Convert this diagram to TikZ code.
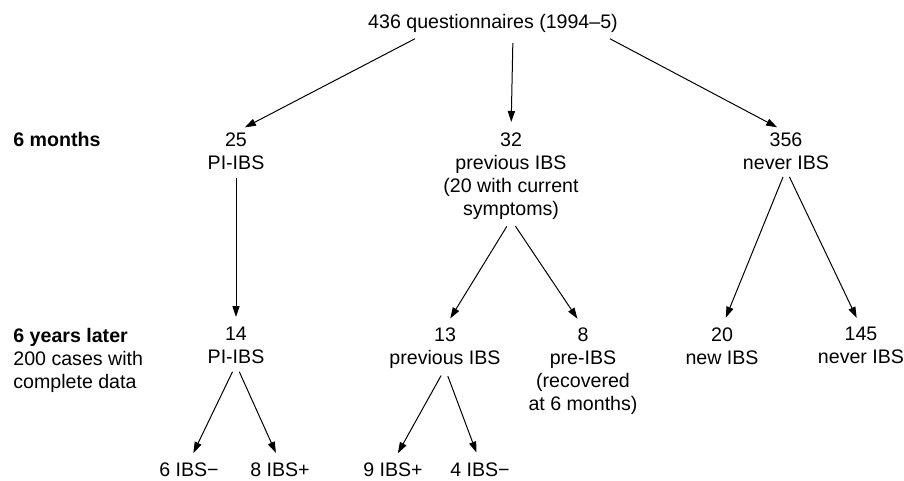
\documentclass[tikz,border=0pt]{standalone}
\usepackage{fontspec}
\setmainfont{Liberation Sans}
\usetikzlibrary{arrows.meta,positioning}
\tikzset{every node/.style={inner sep=0pt, font=\fontsize{9.8}{11.5}\selectfont},
count/.style={align=center, anchor=north},
stage/.style={align=left, anchor=north west},
flow/.style={-{Triangle[length=5.5pt,width=3.6pt]}, line width=0.5pt,
  shorten <=4pt, shorten >=5pt}
}

\begin{document}
\begin{tikzpicture}[x=0.5pt, y=-0.5pt]
\useasboundingbox (0,0) rectangle (904,481);
% stages
\node[stage] (s_6m) at (13,132) {\bfseries 6 months};
\node[stage] (s_6y) at (13,328) {\textbf{6 years later}\\200 cases with\\complete data};
% counts
\node[count] (q_all)    at (493,14)  {436 questionnaires (1994–5)};
\node[count] (pi_1)     at (236,132) {25\\PI-IBS};
\node[count] (prev_1)   at (511,132) {32\\previous IBS\\(20 with current\\symptoms)};
\node[count] (never_1)  at (786,132) {356\\never IBS};
\node[count] (pi_2)     at (236,327) {14\\PI-IBS};
\node[count] (prev_2)   at (445,327) {13\\previous IBS};
\node[count] (pre_2)    at (583,327) {8\\pre-IBS\\(recovered\\at 6 months)};
\node[count] (new_2)    at (722,327) {20\\new IBS};
\node[count] (never_2)  at (861,327) {145\\never IBS};
\node[count] (pim_3)    at (189,462) {6 IBS−};
\node[count] (pip_3)    at (280,462) {8 IBS+};
\node[count] (prevp_3)  at (393,462) {9 IBS+};
\node[count] (prevm_3)  at (480,462) {4 IBS−};

\path[flow] ([xshift=-35.5pt,yshift=-1pt]q_all.south) edge (pi_1.north)
            ([xshift=10pt,yshift=-1pt]q_all.south)    edge (prev_1.north)
            ([xshift=55pt,yshift=-1pt]q_all.south)    edge (never_1.north)
            (pi_1.south)    edge (pi_2.north)
            (prev_1.south)  edge (prev_2.north)
                            edge (pre_2.north)
            (never_1.south) edge (new_2.north)
                            edge (never_2.north)
            (pi_2.south)    edge (pim_3.north)
                            edge (pip_3.north)
            (prev_2.south)  edge (prevp_3.north)
                            edge (prevm_3.north);
\end{tikzpicture}
\end{document}
